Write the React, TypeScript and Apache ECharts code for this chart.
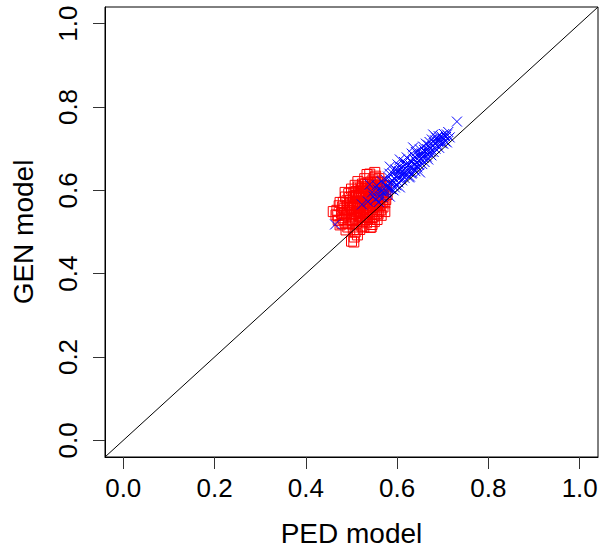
import React, { useEffect, useRef } from "react";
import * as echarts from "echarts";

const TICKS = [0, 0.2, 0.4, 0.6, 0.8, 1.0];
const DIAGONAL = [[-0.04, -0.04], [1.04, 1.04]];

const RED_POINTS = [
  [0.466,0.541],[0.468,0.552],[0.471,0.528],[0.473,0.563],[0.475,0.517],[0.478,0.545],[0.480,0.534],[0.482,0.571],
  [0.484,0.556],[0.486,0.522],[0.487,0.584],[0.489,0.541],[0.491,0.563],[0.492,0.512],[0.494,0.592],[0.495,0.548],
  [0.497,0.530],[0.498,0.576],[0.500,0.603],[0.501,0.556],[0.502,0.519],[0.503,0.541],[0.504,0.585],[0.505,0.476],
  [0.506,0.488],[0.507,0.566],[0.508,0.612],[0.509,0.533],[0.510,0.597],[0.511,0.549],[0.512,0.506],[0.513,0.574],
  [0.514,0.621],[0.515,0.558],[0.516,0.539],[0.517,0.589],[0.518,0.527],[0.519,0.605],[0.520,0.566],[0.521,0.547],
  [0.522,0.581],[0.523,0.514],[0.524,0.615],[0.525,0.556],[0.526,0.596],[0.527,0.535],[0.528,0.572],[0.529,0.628],
  [0.530,0.553],[0.531,0.586],[0.532,0.608],[0.533,0.522],[0.534,0.564],[0.535,0.545],[0.536,0.618],[0.537,0.578],
  [0.538,0.598],[0.539,0.531],[0.540,0.639],[0.541,0.559],[0.542,0.587],[0.543,0.512],[0.544,0.606],[0.545,0.571],
  [0.546,0.549],[0.547,0.625],[0.548,0.592],[0.549,0.538],[0.550,0.612],[0.551,0.566],[0.552,0.583],[0.553,0.634],
  [0.554,0.554],[0.555,0.601],[0.556,0.575],[0.557,0.619],[0.558,0.543],[0.559,0.591],[0.560,0.628],[0.561,0.563],
  [0.562,0.608],[0.563,0.580],[0.564,0.553],[0.565,0.615],[0.566,0.594],[0.567,0.571],[0.568,0.603],[0.570,0.586],
  [0.572,0.612],[0.574,0.597],[0.575,0.578],[0.498,0.559],[0.503,0.571],[0.506,0.545],[0.509,0.582],[0.512,0.563],
  [0.515,0.592],[0.518,0.553],[0.521,0.600],[0.524,0.569],[0.527,0.584],[0.530,0.541],[0.533,0.597],[0.536,0.560],
  [0.539,0.577],[0.542,0.620],[0.545,0.593],[0.548,0.563],[0.551,0.600],[0.554,0.582],[0.557,0.565],[0.500,0.538],
  [0.510,0.520],[0.520,0.536],[0.525,0.525],[0.535,0.530],[0.540,0.548],[0.545,0.535],[0.555,0.545],[0.560,0.550],
  [0.490,0.575],[0.495,0.565],[0.485,0.545],[0.480,0.560],[0.505,0.595],[0.515,0.608],[0.525,0.610],[0.535,0.605],
  [0.545,0.610],[0.550,0.630],[0.530,0.615],[0.508,0.500],[0.513,0.493],[0.545,0.518],[0.556,0.530],[0.565,0.540],
  [0.569,0.560],[0.573,0.570],[0.541,0.511],[0.500,0.478],[0.518,0.506],[0.460,0.549],[0.475,0.571],[0.486,0.595],
  [0.534,0.638],[0.551,0.643],[0.569,0.578],[0.573,0.549],[0.492,0.552],[0.496,0.583],[0.501,0.528],[0.507,0.557],
  [0.511,0.588],[0.516,0.571],[0.519,0.544],[0.523,0.592],[0.526,0.548],[0.529,0.603],[0.532,0.574],[0.537,0.590],
  [0.541,0.569],[0.543,0.600],[0.547,0.580],[0.552,0.620],[0.556,0.590],[0.560,0.605],[0.563,0.620],[0.567,0.585],
  [0.571,0.600],[0.578,0.590],[0.577,0.610],[0.483,0.530],[0.479,0.520],[0.470,0.540],[0.488,0.505],[0.494,0.520],
  [0.504,0.505],[0.527,0.512],[0.531,0.530],[0.550,0.525]
];

const BLUE_POINTS = [
  [0.464,0.518],[0.523,0.566],[0.536,0.573],[0.540,0.614],[0.545,0.595],[0.552,0.578],[0.558,0.601],[0.562,0.585],
  [0.566,0.622],[0.570,0.596],[0.573,0.612],[0.577,0.597],[0.580,0.633],[0.582,0.604],[0.584,0.585],[0.584,0.657],
  [0.586,0.621],[0.588,0.614],[0.590,0.641],[0.592,0.600],[0.594,0.628],[0.596,0.650],[0.598,0.612],[0.600,0.636],
  [0.601,0.662],[0.603,0.619],[0.604,0.646],[0.606,0.674],[0.606,0.607],[0.608,0.632],[0.610,0.655],[0.611,0.624],
  [0.613,0.641],[0.615,0.668],[0.616,0.630],[0.618,0.652],[0.620,0.638],[0.621,0.679],[0.623,0.660],[0.625,0.645],
  [0.626,0.631],[0.628,0.633],[0.628,0.671],[0.630,0.655],[0.632,0.688],[0.633,0.642],[0.635,0.703],[0.635,0.665],
  [0.637,0.651],[0.639,0.680],[0.640,0.646],[0.641,0.692],[0.643,0.667],[0.644,0.655],[0.646,0.683],[0.648,0.661],
  [0.650,0.643],[0.650,0.698],[0.652,0.675],[0.654,0.688],[0.655,0.663],[0.657,0.705],[0.658,0.678],[0.660,0.668],
  [0.661,0.692],[0.663,0.712],[0.665,0.681],[0.666,0.699],[0.668,0.674],[0.670,0.690],[0.671,0.716],[0.673,0.700],
  [0.675,0.684],[0.676,0.722],[0.678,0.706],[0.679,0.734],[0.680,0.692],[0.682,0.713],[0.684,0.700],[0.686,0.726],
  [0.688,0.709],[0.690,0.718],[0.692,0.702],[0.694,0.722],[0.696,0.730],[0.698,0.713],[0.700,0.724],[0.703,0.735],
  [0.705,0.718],[0.707,0.728],[0.709,0.715],[0.709,0.734],[0.712,0.740],[0.715,0.727],[0.731,0.765],[0.548,0.585],
  [0.555,0.612],[0.560,0.572],[0.565,0.598],[0.568,0.584],[0.575,0.625],[0.578,0.610],[0.583,0.640],[0.587,0.603],
  [0.591,0.622],[0.595,0.607],[0.599,0.646],[0.602,0.630],[0.607,0.650],[0.612,0.636],[0.617,0.660],[0.622,0.648],
  [0.627,0.662],[0.631,0.640],[0.636,0.676],[0.642,0.660],[0.647,0.672],[0.653,0.685],[0.659,0.697],[0.664,0.690],
  [0.669,0.708],[0.674,0.693],[0.683,0.720],[0.691,0.730],[0.701,0.712]
];

const FONT = "Liberation Sans, Arial, sans-serif";

export default function App() {
  const ref = useRef<HTMLDivElement>(null);
  useEffect(() => {
    if (!ref.current) return;
    const chart = echarts.init(ref.current, null, { renderer: "svg" });
    const labelStyle = { fontSize: 26, fontFamily: FONT, color: "#000" };
    const nameStyle = { fontSize: 28, fontFamily: FONT, color: "#000" };
    chart.setOption({
      animation: false,
      backgroundColor: "#fff",
      grid: { left: 105, right: 4, top: 7, bottom: 94, show: true, borderColor: "#000", borderWidth: 1 },
      xAxis: {
        type: "value", min: -0.04, max: 1.04,
        splitLine: { show: false },
        axisLine: { show: true, onZero: false, lineStyle: { color: "#000", width: 1 } },
        axisTick: { show: true, inside: false, length: 12, customValues: TICKS, lineStyle: { color: "#333" } },
        axisLabel: { customValues: TICKS, formatter: (v: number) => v.toFixed(1), margin: 18, ...labelStyle },
        name: "PED model", nameLocation: "middle", nameGap: 62,
        nameTextStyle: { ...nameStyle },
      },
      yAxis: {
        type: "value", min: -0.04, max: 1.04,
        splitLine: { show: false },
        axisLine: { show: true, onZero: false, lineStyle: { color: "#000", width: 1 } },
        axisTick: { show: true, inside: false, length: 12, customValues: TICKS, lineStyle: { color: "#333" } },
        axisLabel: { customValues: TICKS, rotate: 90, formatter: (v: number) => v.toFixed(1), margin: 24, ...labelStyle },
        name: "GEN model", nameLocation: "middle", nameGap: 68,
        nameTextStyle: { ...nameStyle },
      },
      series: [
        {
          type: "scatter", data: RED_POINTS, symbol: "rect", symbolSize: 10, z: 2,
          itemStyle: { color: "transparent", borderColor: "#ff0000", borderWidth: 1, opacity: 1 },
        },
        {
          type: "scatter", data: BLUE_POINTS, symbol: "path://M0,0L10,10M10,0L0,10", symbolSize: 10, z: 3,
          itemStyle: { color: "transparent", borderColor: "#0000ff", borderWidth: 1, opacity: 1 },
        },
        {
          type: "line", data: DIAGONAL, showSymbol: false, symbol: "none", z: 4,
          lineStyle: { color: "#000", width: 1 },
        },
      ],
    });
    return () => chart.dispose();
  }, []);
  return <div ref={ref} style={{ position: "fixed", left: 0, top: 0, width: 602, height: 552 }} />;
}
